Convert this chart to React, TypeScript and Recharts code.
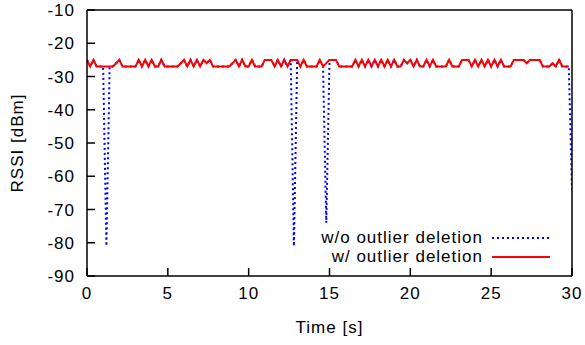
import React from 'react';
import { LineChart, Line, XAxis, YAxis } from 'recharts';

// sampling grid of the trace (s)
const SAMPLE_INTERVAL_S = 0.2;

// raw RSSI samples [dBm], one per sample interval (0 .. 30 s)
const rawRssi: number[] = [
  -25, -27, -25, -27, -27, -27, -81, -27, -27, -26,
  -25, -27, -27, -27, -27, -27, -25, -27, -25, -27,
  -25, -27, -27, -25, -27, -27, -27, -27, -27, -26,
  -25, -27, -25, -27, -25, -27, -25, -26, -25, -27,
  -27, -27, -27, -27, -27, -26, -25, -27, -25, -27,
  -27, -25, -27, -27, -27, -25, -25, -25, -27, -25,
  -27, -25, -27, -25, -81, -25, -27, -25, -27, -27,
  -27, -27, -25, -27, -74, -25, -25, -25, -27, -27,
  -27, -27, -27, -25, -27, -25, -27, -25, -27, -25,
  -27, -25, -27, -25, -27, -25, -27, -27, -25, -26,
  -25, -27, -25, -27, -27, -25, -27, -25, -27, -27,
  -27, -27, -25, -27, -27, -27, -25, -25, -25, -27,
  -25, -27, -25, -27, -25, -27, -25, -27, -25, -27,
  -27, -27, -25, -25, -25, -25, -26, -25, -25, -25,
  -25, -27, -27, -27, -26, -27, -25, -27, -27, -27,
  -64,
];

// sample indices removed as outliers
const deletedSamples: number[] = [6, 64, 74, 150];

const xTicks = [0, 5, 10, 15, 20, 25, 30];
const yTicks = [-90, -80, -70, -60, -50, -40, -30, -20, -10];

const seriesKeys = ['raw', 'clean'];
const seriesNames: Record<string, string> = { raw: 'w/o outlier deletion', clean: 'w/ outlier deletion' };
const seriesStyle: Record<string, { color: string; dash?: string }> = {
  raw: { color: '#0000ff', dash: '2 3' },
  clean: { color: '#ff0000' },
};

const data = rawRssi.map((v, i) => ({
  t: Math.round(i * SAMPLE_INTERVAL_S * 10) / 10,
  raw: v,
  clean: deletedSamples.includes(i) ? null : v,
}));

const FONT = '"Liberation Sans", Arial, sans-serif';
const FS = 17;
const LS = 1;
const tickStyle = { fontFamily: FONT, fontSize: FS, fill: '#000', letterSpacing: LS };
const axisLineStyle = { stroke: '#000', strokeWidth: 1.5 };

const YTitle = (props: any) => {
  const vb = props.viewBox || {};
  const cx = vb.x + 17;
  const cy = vb.y + vb.height / 2;
  return (
    <text
      x={cx}
      y={cy}
      transform={`rotate(-90 ${cx} ${cy})`}
      textAnchor="middle"
      dominantBaseline="central"
      fontFamily={FONT}
      fontSize={FS}
      letterSpacing={LS}
      fill="#000"
    >
      RSSI [dBm]
    </text>
  );
};

const LegendBox = () => (
  <div
    style={{
      position: 'absolute',
      left: 250,
      top: 228,
      width: 300,
      fontFamily: FONT,
      fontSize: FS,
      letterSpacing: LS,
      color: '#000',
      lineHeight: '19px',
    }}
  >
    {seriesKeys.map((k) => (
      <div key={k} style={{ display: 'flex', alignItems: 'center', justifyContent: 'flex-end', height: 19 }}>
        <span style={{ whiteSpace: 'nowrap' }}>{seriesNames[k]}</span>
        <svg width={58} height={6} style={{ marginLeft: 9, display: 'block' }}>
          <line
            x1={0}
            y1={3}
            x2={58}
            y2={3}
            stroke={seriesStyle[k].color}
            strokeWidth={2}
            strokeDasharray={seriesStyle[k].dash}
          />
        </svg>
      </div>
    ))}
  </div>
);

export default function App() {
  return (
    <div style={{ position: 'absolute', left: 0, top: 0, width: 585, height: 345, background: '#fff' }}>
      <LineChart width={585} height={345} data={data} margin={{ top: 9, right: 12, bottom: 0, left: 0 }}>
        <XAxis
          xAxisId="x"
          dataKey="t"
          type="number"
          domain={[0, 30]}
          ticks={xTicks}
          allowDataOverflow
          height={69}
          tickSize={-8}
          tickMargin={19}
          tickLine={axisLineStyle}
          axisLine={axisLineStyle}
          tick={tickStyle}
          label={{
            value: 'Time [s]',
            position: 'insideBottom',
            offset: 12,
            style: { fontFamily: FONT, fontSize: FS, fill: '#000', letterSpacing: LS },
          }}
        />
        <XAxis
          xAxisId="xt"
          dataKey="t"
          orientation="top"
          type="number"
          domain={[0, 30]}
          ticks={xTicks}
          allowDataOverflow
          height={1}
          tick={false}
          tickSize={-8}
          tickLine={axisLineStyle}
          axisLine={axisLineStyle}
        />
        <YAxis
          yAxisId="y"
          type="number"
          domain={[-90, -10]}
          ticks={yTicks}
          allowDataOverflow
          width={87}
          tickSize={-8}
          tickMargin={20}
          tickLine={axisLineStyle}
          axisLine={axisLineStyle}
          tick={tickStyle}
          label={<YTitle />}
        />
        <YAxis
          yAxisId="yr"
          orientation="right"
          type="number"
          domain={[-90, -10]}
          ticks={yTicks}
          allowDataOverflow
          width={1}
          tick={false}
          tickSize={-8}
          tickLine={axisLineStyle}
          axisLine={axisLineStyle}
        />
        <Line
          xAxisId="x"
          yAxisId="y"
          dataKey="raw"
          name={seriesNames.raw}
          type="linear"
          stroke={seriesStyle.raw.color}
          strokeWidth={2}
          strokeDasharray={seriesStyle.raw.dash}
          dot={false}
          activeDot={false}
          isAnimationActive={false}
        />
        <Line
          xAxisId="xt"
          yAxisId="yr"
          dataKey="clean"
          name={seriesNames.clean}
          type="linear"
          stroke={seriesStyle.clean.color}
          strokeWidth={2}
          connectNulls
          dot={false}
          activeDot={false}
          isAnimationActive={false}
        />
      </LineChart>
      <LegendBox />
    </div>
  );
}
